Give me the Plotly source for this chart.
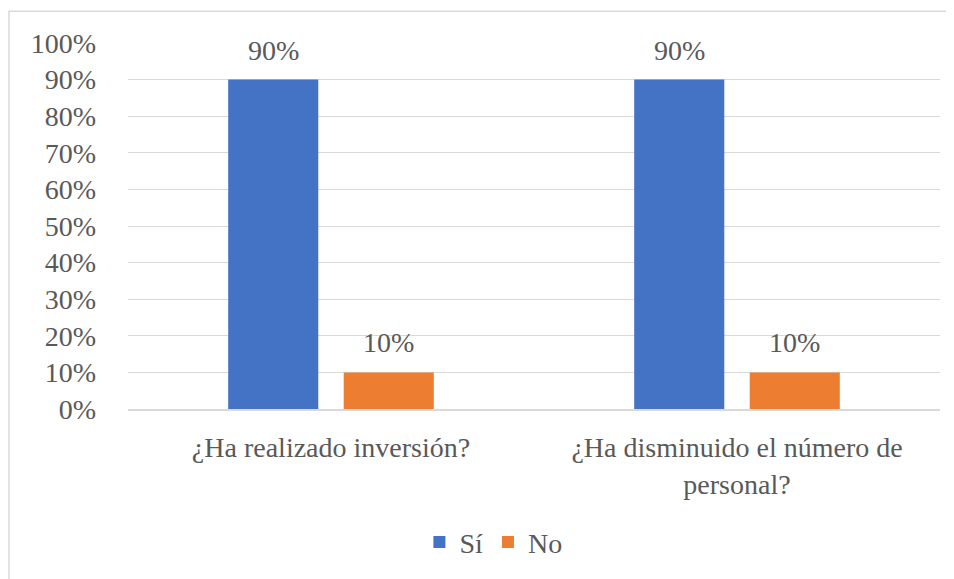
import plotly.graph_objects as go

categories = ["¿Ha realizado inversión?", "¿Ha disminuido el número de<br>personal?"]
si_values = [0.90, 0.90]
no_values = [0.10, 0.10]
series = [("Sí", si_values, "#4472C4"), ("No", no_values, "#ED7D31")]
y_ticks = [i / 10 for i in range(11)]

FONT = "Liberation Serif, Times New Roman, serif"
GRAY = "#595959"
SIZE = 28

fig = go.Figure()
for name, vals, color in series:
    fig.add_trace(
        go.Bar(
            x=categories,
            y=vals,
            name=name,
            marker=dict(color=color, line=dict(width=0)),
        )
    )

# value labels above each bar (offset within the group)
offsets = [-57.75, 57.75]
annotations = []
for (name, vals, color), dx in zip(series, offsets):
    for cat, v in zip(categories, vals):
        annotations.append(
            dict(
                x=cat, y=v, xref="x", yref="y",
                text=f"{v:.0%}", showarrow=False,
                xshift=dx, yshift=12, yanchor="bottom",
                font=dict(family=FONT, size=SIZE, color=GRAY),
            )
        )

# page body has an 8px margin, so the figure is drawn 8px in and down
fig.update_layout(
    width=946,
    height=571,
    barmode="group",
    bargap=0.431,
    bargroupgap=0.22,
    plot_bgcolor="white",
    paper_bgcolor="white",
    font=dict(family=FONT, size=SIZE, color=GRAY),
    margin={"l": 120, "r": 14, "t": 35, "b": 168},
    annotations=annotations,
    legend=dict(
        orientation="h", x=0.45, xanchor="center", y=-0.364, yanchor="middle",
        font=dict(family=FONT, size=SIZE, color=GRAY),
        itemwidth=30, tracegroupgap=0,
    ),
    shapes=[
        dict(
            type="rect", xref="paper", yref="paper",
            x0=(9 - 128) / 812, x1=(948 - 128) / 812,
            y0=(411 - 600) / 368, y1=(411 - 11) / 368,
            line=dict(color="#D9D9D9", width=1.5), fillcolor="rgba(0,0,0,0)",
            layer="below",
        )
    ],
)

fig.update_yaxes(
    range=[0, 1],
    tickvals=y_ticks,
    tickformat=".0%",
    showgrid=True,
    gridcolor="#D9D9D9",
    gridwidth=1,
    zeroline=False,
    showline=False,
    ticklabelstandoff=31,
    tickfont=dict(family=FONT, size=SIZE, color=GRAY),
)
fig.update_xaxes(
    showline=True,
    linecolor="#D9D9D9",
    linewidth=1.5,
    ticks="",
    ticklabelstandoff=13,
    tickfont=dict(family=FONT, size=SIZE, color=GRAY),
)

fig.write_html("out.html")
